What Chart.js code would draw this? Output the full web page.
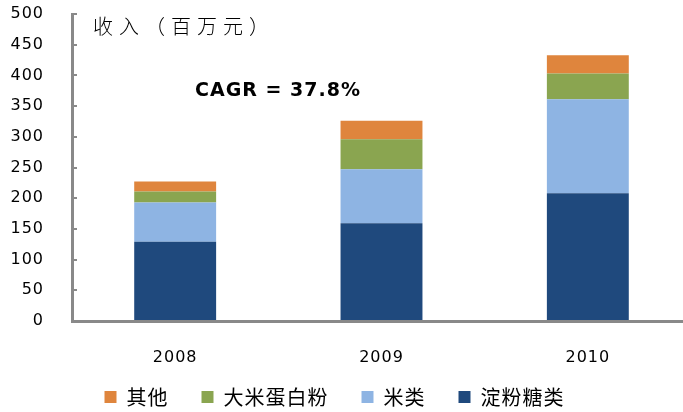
<!DOCTYPE html>
<html><head><meta charset="utf-8">
<script src="https://cdn.jsdelivr.net/npm/chart.js@4/dist/chart.umd.min.js"></script>
<style>html,body{margin:0;padding:0;background:#fff;overflow:hidden;width:683px;height:412px}</style>
</head><body>
<canvas id="c" width="691" height="412" style="display:block;width:691px;height:412px"></canvas>
<script>
// ---- data ----
const years = ['2008', '2009', '2010'];
const starchSugar = [129, 159, 208];   // 淀粉糖类
const rice = [64, 88, 153];            // 米类
const riceProtein = [18, 49, 42];      // 大米蛋白粉
const others = [16, 30, 30];           // 其他
const seriesNames = ['淀粉糖类', '米类', '大米蛋白粉', '其他'];
const seriesColors = ['#1F497D', '#8EB4E3', '#8AA550', '#DF853D'];
const yMin = 0, yMax = 500, yStep = 50;
const yTitle = '收入（百万元）';
const note = 'CAGR = 37.8%';

const latin = "'DejaVu Sans', 'Liberation Sans', Arial, sans-serif";
const cjk = "'Noto Sans CJK SC', 'Noto Sans', sans-serif";

const spacing = {
  id: 'spacing',
  beforeLayout(chart) { chart.ctx.letterSpacing = '1px'; },
  afterLayout(chart) {
    // nudge the legend up and left to where the reference has it
    const lg = chart.legend;
    if (lg) { lg.top -= 12; lg.bottom -= 12; lg.left -= 11; lg.right -= 11; }
  },
  beforeDraw(chart) { chart.ctx.letterSpacing = '1px'; }
};
const annot = {
  id: 'annot',
  afterDraw(chart) {
    const ctx = chart.ctx, a = chart.chartArea;
    ctx.save();
    ctx.fillStyle = '#000';
    ctx.textBaseline = 'middle';
    ctx.textAlign = 'left';
    ctx.letterSpacing = '6px';
    ctx.font = "300 20px " + cjk;
    ctx.fillText(yTitle, a.left + 21, a.top + 12);
    ctx.letterSpacing = '1px';
    ctx.font = "bold 19px " + latin;
    ctx.fillText(note, a.left + 123, a.top + 77);
    ctx.restore();
  }
};

const values = [starchSugar, rice, riceProtein, others];
new Chart(document.getElementById('c'), {
  type: 'bar',
  data: {
    labels: years,
    datasets: seriesNames.map((n, i) => ({
      label: n,
      data: values[i],
      backgroundColor: seriesColors[i],
      borderWidth: 0,
      barPercentage: 0.397,
      categoryPercentage: 1
    }))
  },
  options: {
    responsive: false,
    animation: false,
    layout: { padding: { left: 0, top: 14, right: 0, bottom: -17 } },
    plugins: {
      tooltip: { enabled: false },
      legend: {
        position: 'bottom',
        reverse: true,
        labels: {
          boxWidth: 12, boxHeight: 12, padding: 33, color: '#000',
          font: { family: cjk, size: 20 }
        }
      }
    },
    scales: {
      x: {
        stacked: true,
        grid: { display: false, drawTicks: false },
        border: { display: true, color: '#898989', width: 3 },
        ticks: { color: '#000', padding: 27, font: { family: latin, size: 16 } },
        afterFit(s) { s.height = 45; s.paddingLeft = 0; s.paddingRight = 0; }
      },
      y: {
        stacked: true,
        min: yMin, max: yMax,
        ticks: { stepSize: yStep, color: '#000', padding: 33, font: { family: latin, size: 16 } },
        grid: { display: true, drawOnChartArea: false, drawTicks: true, tickLength: -5, color: '#898989', lineWidth: 2 },
        border: { display: true, color: '#898989', width: 3 },
        afterFit(s) { s.width = 72; s.paddingTop = 8; s.paddingBottom = 8; }
      }
    }
  },
  plugins: [spacing, annot]
});
</script>
</body></html>
